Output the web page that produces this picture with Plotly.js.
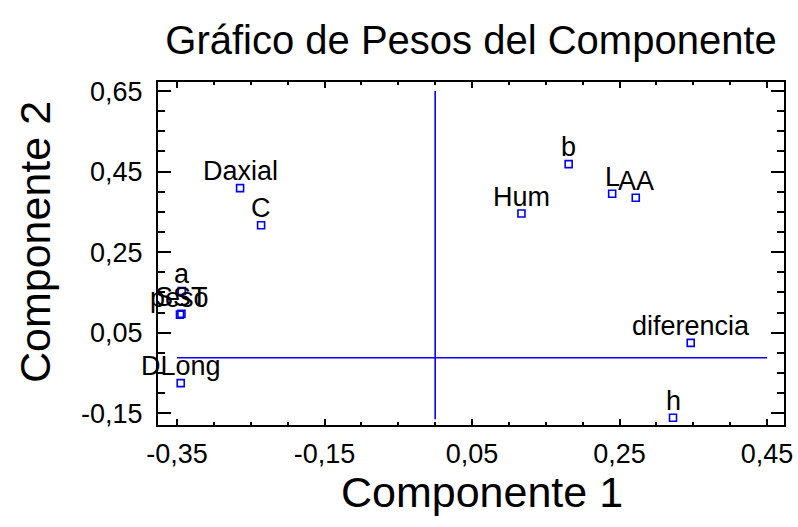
<!DOCTYPE html>
<html>
<head>
<meta charset="utf-8">
<script src="https://cdn.plot.ly/plotly-3.0.1.min.js"></script>
<style>html,body{margin:0;padding:0;background:#fff;}#chart{width:798px;height:527px;}</style>
</head>
<body>
<div id="chart"></div>
<script>
// Component weights
var labels = ["Daxial", "C", "a", "SST", "peso", "DLong", "Hum", "b", "L", "AA", "diferencia", "h"];
var comp1  = [-0.2645, -0.236, -0.3436, -0.344, -0.346, -0.345, 0.117, 0.181, 0.240, 0.272, 0.3465, 0.3225];
var comp2  = [0.409, 0.317, 0.1535, 0.097, 0.095, -0.075, 0.346, 0.4685, 0.395, 0.385, 0.025, -0.161];

// Reference lines
var vLineX = 0.0, vLineY = [-0.165, 0.65];
var hLineY = -0.012, hLineX = [-0.35, 0.45];

// Tick values and labels
var xTicks = [-0.35, -0.15, 0.05, 0.25, 0.45];
var xTickText = ["-0,35", "-0,15", "0,05", "0,25", "0,45"];
var yTicks = [-0.15, 0.05, 0.25, 0.45, 0.65];
var yTickText = ["-0,15", "0,05", "0,25", "0,45", "0,65"];

var FONT = "Arial, 'Liberation Sans', Helvetica, sans-serif";

var trace = {
  x: comp1, y: comp2,
  type: 'scatter', mode: 'markers',
  marker: {symbol: 'square-open', size: 7, color: '#0000ff', line: {width: 1.6, color: '#0000ff'}},
  cliponaxis: false, hoverinfo: 'none'
};

var pointLabels = labels.map(function (t, i) {
  return {x: comp1[i], y: comp2[i], xref: 'x', yref: 'y', text: t, showarrow: false,
          xanchor: 'center', yanchor: 'bottom', yshift: 0,
          font: {family: FONT, size: 27, color: '#000'}};
});

var axisTitles = [
  {text: 'Componente 1', xref: 'paper', yref: 'paper', x: 0.5176, y: -0.195,
   xanchor: 'center', yanchor: 'middle', showarrow: false,
   font: {family: FONT, size: 43, color: '#000'}},
  {text: 'Componente 2', xref: 'paper', yref: 'paper', x: -0.1965, y: 0.5335, textangle: -90,
   xanchor: 'center', yanchor: 'middle', showarrow: false,
   font: {family: FONT, size: 43, color: '#000'}}
];

var layout = {
  width: 798, height: 527,
  margin: {l: 158, r: 14, t: 82, b: 102},
  paper_bgcolor: '#fff', plot_bgcolor: '#fff',
  showlegend: false,
  font: {family: FONT, color: '#000'},
  title: {text: 'Gráfico de Pesos del Componente', font: {family: FONT, size: 40, color: '#000'},
          x: 0.5, xref: 'paper', y: 0.925, yref: 'container', yanchor: 'middle'},
  xaxis: {
    range: [-0.3758, 0.473], tickmode: 'array', tickvals: xTicks, ticktext: xTickText,
    ticks: 'inside', ticklen: 6, tickwidth: 2, tickcolor: '#000',
    minor: {dtick: 0.05, tick0: -0.35, ticks: 'inside', ticklen: 3, tickwidth: 2, tickcolor: '#000'},
    showline: true, linewidth: 2, linecolor: '#000', mirror: 'ticks',
    showgrid: false, zeroline: false,
    tickfont: {family: FONT, size: 27, color: '#000'},
    ticklabelstandoff: 4
  },
  yaxis: {
    range: [-0.179, 0.6725], tickmode: 'array', tickvals: yTicks, ticktext: yTickText,
    ticks: 'inside', ticklen: 13, tickwidth: 2, tickcolor: '#000',
    minor: {dtick: 0.05, tick0: -0.15, ticks: 'inside', ticklen: 7, tickwidth: 2, tickcolor: '#000'},
    showline: true, linewidth: 2, linecolor: '#000', mirror: 'ticks',
    showgrid: false, zeroline: false,
    tickfont: {family: FONT, size: 27, color: '#000'},
    ticklabelstandoff: 8
  },
  annotations: pointLabels.concat(axisTitles),
  shapes: [
    {type: 'line', xref: 'x', yref: 'y', x0: vLineX, x1: vLineX, y0: vLineY[0], y1: vLineY[1],
     line: {color: '#0000ff', width: 1.6}, layer: 'below'},
    {type: 'line', xref: 'x', yref: 'y', x0: hLineX[0], x1: hLineX[1], y0: hLineY, y1: hLineY,
     line: {color: '#0000ff', width: 1.6}, layer: 'below'}
  ]
};

Plotly.newPlot('chart', [trace], layout, {staticPlot: true, displayModeBar: false});
</script>
</body>
</html>
